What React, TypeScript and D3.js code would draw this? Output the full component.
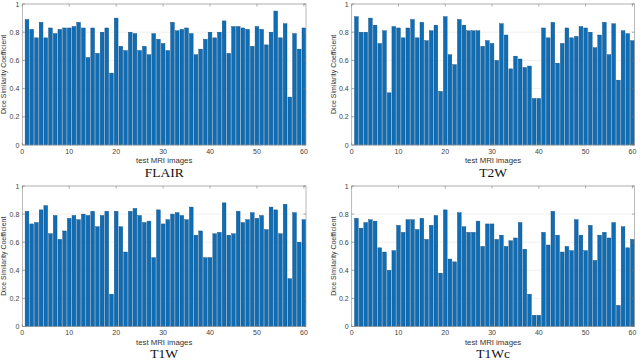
import React from 'react';
import * as d3 from 'd3';

// Dice similarity per test image (1..60)
const flairDice = [
  0.89, 0.82, 0.76, 0.87, 0.76, 0.83, 0.79, 0.82, 0.83, 0.83,
  0.84, 0.87, 0.83, 0.62, 0.83, 0.65, 0.80, 0.83, 0.51, 0.90,
  0.70, 0.67, 0.80, 0.79, 0.67, 0.70, 0.64, 0.79, 0.75, 0.72,
  0.67, 0.87, 0.81, 0.82, 0.83, 0.79, 0.64, 0.68, 0.75, 0.80,
  0.76, 0.80, 0.88, 0.65, 0.84, 0.84, 0.83, 0.82, 0.70, 0.84,
  0.82, 0.71, 0.80, 0.95, 0.76, 0.86, 0.34, 0.79, 0.68, 0.83,
];
const t2wDice = [
  0.91, 0.80, 0.80, 0.90, 0.85, 0.72, 0.81, 0.37, 0.84, 0.83,
  0.76, 0.83, 0.89, 0.76, 0.87, 0.74, 0.81, 0.85, 0.38, 0.91,
  0.64, 0.57, 0.89, 0.85, 0.81, 0.81, 0.81, 0.70, 0.74, 0.72,
  0.60, 0.86, 0.78, 0.54, 0.63, 0.61, 0.55, 0.56, 0.33, 0.33,
  0.83, 0.76, 0.87, 0.58, 0.72, 0.83, 0.76, 0.77, 0.84, 0.83,
  0.80, 0.69, 0.78, 0.87, 0.64, 0.86, 0.46, 0.81, 0.79, 0.74,
];
const t1wDice = [
  0.82, 0.73, 0.74, 0.83, 0.86, 0.66, 0.79, 0.62, 0.68, 0.77,
  0.79, 0.76, 0.80, 0.79, 0.82, 0.71, 0.79, 0.82, 0.23, 0.82,
  0.71, 0.53, 0.82, 0.84, 0.79, 0.74, 0.75, 0.49, 0.83, 0.73,
  0.76, 0.80, 0.81, 0.79, 0.76, 0.85, 0.65, 0.68, 0.49, 0.49,
  0.66, 0.67, 0.88, 0.65, 0.66, 0.82, 0.74, 0.76, 0.81, 0.77,
  0.79, 0.69, 0.85, 0.83, 0.66, 0.87, 0.34, 0.81, 0.60, 0.76,
];
const t1wcDice = [
  0.77, 0.70, 0.74, 0.76, 0.75, 0.56, 0.53, 0.40, 0.54, 0.72,
  0.67, 0.76, 0.76, 0.69, 0.77, 0.62, 0.72, 0.79, 0.38, 0.83,
  0.48, 0.46, 0.81, 0.71, 0.67, 0.67, 0.75, 0.57, 0.73, 0.73,
  0.62, 0.65, 0.57, 0.61, 0.63, 0.74, 0.55, 0.23, 0.08, 0.08,
  0.67, 0.58, 0.82, 0.65, 0.53, 0.57, 0.54, 0.76, 0.65, 0.54,
  0.72, 0.47, 0.65, 0.67, 0.63, 0.74, 0.15, 0.71, 0.56, 0.62,
];

const xTicks = [0, 10, 20, 30, 40, 50, 60];
const yTicks = [0, 0.2, 0.4, 0.6, 0.8, 1];
const xLabel = 'test MRI images';
const yLabel = 'Dice Similarity Coefficient';

const sans = '"Liberation Sans", Arial, sans-serif';
const serif = '"Liberation Serif", "Times New Roman", serif';

const panels = [
  { title: 'FLAIR', values: flairDice, left: 22.3, right: 306, top: 4, bottom: 145 },
  { title: 'T2W', values: t2wDice, left: 351.7, right: 634.5, top: 4, bottom: 145 },
  { title: 'T1W', values: t1wDice, left: 22.3, right: 306, top: 186, bottom: 326.5 },
  { title: 'T1Wc', values: t1wcDice, left: 351.7, right: 634.5, top: 186, bottom: 326.5 },
];

function Panel({ title, values, left, right, top, bottom }) {
  const x = d3.scaleLinear().domain([0, 60.45]).range([left, right]);
  const y = d3.scaleLinear().domain([0, 1]).range([bottom, top]);
  const bw = x(0.8) - x(0);
  const cx = (left + right) / 2;
  const fmt = d3.format('~g');

  return (
    <g>
      {/* horizontal grid */}
      {yTicks.map(t => (
        <line key={'g' + t} x1={left} x2={right} y1={y(t)} y2={y(t)} stroke="#e6e6e6" strokeWidth={0.6} />
      ))}
      {values.map((v, i) => (
        <rect
          key={i}
          x={x(i + 1) - bw / 2}
          y={y(v)}
          width={bw}
          height={y(0) - y(v)}
          fill="#0f6db5"
          stroke="#0d4a7d"
          strokeWidth={0.4}
        />
      ))}
      <rect x={left} y={top} width={right - left} height={bottom - top} fill="none" stroke="#9a9a9a" strokeWidth={0.7} />
      {xTicks.map(t => (
        <g key={'x' + t}>
          <line x1={x(t)} x2={x(t)} y1={bottom} y2={bottom - 2.5} stroke="#777" strokeWidth={0.6} />
          <line x1={x(t)} x2={x(t)} y1={top} y2={top + 2.5} stroke="#777" strokeWidth={0.6} />
          <text x={x(t)} y={bottom + 8.7} textAnchor="middle" fontSize={7} fill="#444" fontFamily={sans}>
            {t}
          </text>
        </g>
      ))}
      {yTicks.map(t => (
        <g key={'y' + t}>
          <line x1={left} x2={left + 2.5} y1={y(t)} y2={y(t)} stroke="#777" strokeWidth={0.6} />
          <line x1={right} x2={right - 2.5} y1={y(t)} y2={y(t)} stroke="#777" strokeWidth={0.6} />
          <text x={left - 3} y={y(t) + 2.5} textAnchor="end" fontSize={7} fill="#444" fontFamily={sans}>
            {fmt(t)}
          </text>
        </g>
      ))}
      <text
        transform={`translate(${left - 16},${(top + bottom) / 2}) rotate(-90)`}
        textAnchor="middle"
        fontSize={7}
        fill="#333"
        fontFamily={sans}
      >
        {yLabel}
      </text>
      <text x={cx} y={bottom + 18} textAnchor="middle" fontSize={7.8} fill="#333" fontFamily={sans}>
        {xLabel}
      </text>
      <text x={cx} y={bottom + 31.8} textAnchor="middle" fontSize={13.5} fill="#111" fontFamily={serif}>
        {title}
      </text>
    </g>
  );
}

export default function App() {
  return (
    <svg
      width={640}
      height={360}
      style={{ position: 'absolute', left: 0, top: 0, background: '#fff' }}
    >
      <rect width={640} height={360} fill="#fff" />
      {panels.map(p => (
        <Panel key={p.title} {...p} />
      ))}
    </svg>
  );
}
